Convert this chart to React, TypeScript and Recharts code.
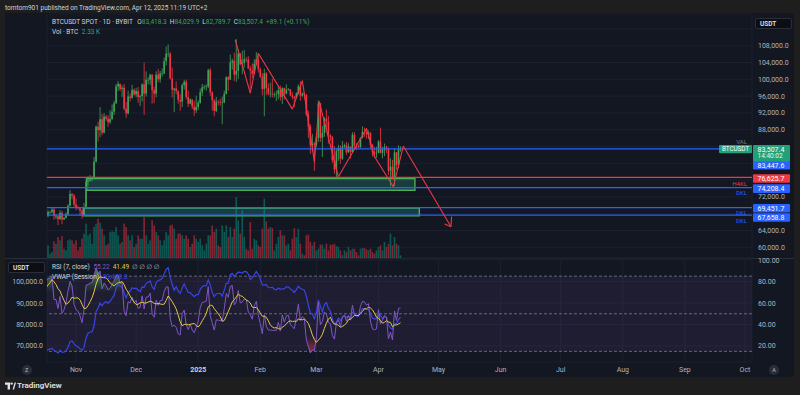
import {
  Area,
  Bar,
  CartesianGrid,
  ComposedChart,
  Line,
  ReferenceArea,
  ReferenceLine,
  XAxis,
  YAxis,
} from "recharts";

const FONT = "Roboto, 'Noto Sans', 'DejaVu Sans', sans-serif";
const BG = "#131722";
const FRAME = "#1e1e1e";
const AXIS_TEXT = "#b2b5be";
const GRID = "#1c2030";
const UP = "#43a25a";
const DOWN = "#f23645";
const LINE_BLUE = "#2962ff";
const ZONE_EDGE = "#4caf50";
const LAST_GREEN = "#22a078";
const RSI_PURPLE = "#7e57c2";
const RSI_YELLOW = "#e4c845";
const VWAP_BLUE = "#3a44e4";

// BYBIT BTCUSDT spot, one daily candle per entry, 2024-10-17 … 2025-04-12, thousand USDT
const OPEN = [
  67.6, 67.4, 68.4, 68.4, 69.0, 67.4, 67.4, 66.7, 68.2, 66.6, 67.0, 67.9, 69.9, 72.7, 72.3,
  70.2, 69.5, 69.3, 68.7, 67.8, 69.4, 75.6, 75.9, 76.5, 76.7, 80.4, 88.7, 87.9, 90.5, 87.3,
  91.1, 90.6, 89.8, 90.5, 92.3, 94.3, 98.3, 98.9, 97.7, 98.0, 93.0, 91.9, 95.9, 95.6, 97.5,
  96.4, 97.2, 95.8, 96.0, 98.8, 96.6, 99.9, 99.9, 101.1, 97.4, 96.6, 101.1, 100.0, 101.4, 101.4,
  104.3, 106.1, 106.1, 100.2, 97.5, 97.8, 97.2, 95.1, 94.7, 98.6, 99.4, 95.8, 94.2, 95.2, 93.5, 92.6,
  93.4, 94.4, 96.9, 98.1, 98.2, 98.3, 102.2, 96.9, 95.0, 92.5, 94.7, 94.6, 94.5, 94.5, 96.5,
  100.5, 99.9, 104.0, 104.4, 101.1, 102.0, 106.1, 103.6, 103.9, 104.8, 104.7, 102.6, 102.1, 101.3, 103.7, 104.7,
  102.4, 100.6, 97.7, 101.4, 97.9, 96.6, 96.6, 96.5, 96.5, 96.5, 97.4, 95.8, 97.9, 96.6,
  97.5, 97.6, 96.2, 95.8, 95.5, 96.6, 98.3, 96.1, 96.6, 96.3, 91.6, 88.7, 84.3, 84.7,
  84.4, 86.0, 94.3, 86.1, 87.2, 90.6, 89.9, 86.7, 86.2, 80.7, 78.5, 82.9, 83.7, 81.1, 84.0,
  84.3, 82.6, 84.0, 82.7, 86.8, 84.2, 84.0, 83.8, 86.1, 87.5, 87.4, 86.9, 87.2, 84.4, 82.6, 82.4,
  82.5, 85.2, 82.5, 83.1, 83.8, 83.5, 78.2, 79.2, 76.3, 82.6, 79.6, 83.4183,
];
const HIGH = [
  68.0, 68.9, 68.7, 69.4, 69.5, 67.9, 67.5, 68.8, 68.7, 67.3, 68.3, 70.3, 73.6, 72.9, 72.7,
  71.6, 69.9, 69.4, 69.0, 70.6, 76.4, 76.9, 77.2, 76.9, 81.5, 89.0, 89.9, 93.4, 91.8, 91.9,
  91.5, 91.4, 92.6, 94.0, 94.9, 98.9, 99.6, 99.0, 98.6, 98.9, 94.6, 97.3, 96.6, 98.7, 97.8,
  97.9, 98.2, 96.3, 99.0, 104.0, 101.9, 100.5, 101.3, 101.2, 98.3, 101.9, 102.5, 102.0, 102.6, 105.2,
  107.8, 108.3, 106.5, 102.8, 98.0, 99.5, 97.4, 96.4, 99.0, 99.9, 99.9, 97.3, 95.5, 95.2, 94.9, 96.1,
  95.0, 97.8, 98.9, 98.7, 98.8, 102.5, 102.7, 97.2, 95.3, 95.8, 95.0, 95.4, 95.9, 97.3, 100.7,
  100.8, 105.9, 104.9, 106.3, 109.6, 107.2, 106.3, 106.8, 107.0, 105.3, 105.5, 103.2, 103.8, 104.8, 106.5, 106.0,
  102.8, 101.5, 102.5, 101.7, 99.0, 99.2, 100.1, 96.9, 97.3, 98.3, 98.5, 98.1, 98.0, 98.8,
  97.9, 97.7, 97.0, 96.0, 96.9, 98.8, 99.5, 96.9, 96.7, 96.5, 92.5, 89.3, 87.0, 85.1,
  86.5, 95.0, 94.4, 88.9, 91.0, 92.8, 91.3, 86.9, 86.5, 84.1, 83.6, 84.4, 84.3, 85.3, 84.7,
  85.1, 84.8, 84.0, 87.4, 87.4, 84.8, 84.5, 86.1, 88.8, 88.5, 88.3, 87.8, 87.5, 84.6, 83.9, 83.9,
  85.5, 88.5, 83.9, 84.7, 84.2, 83.8, 81.2, 80.8, 83.6, 82.7, 84.3, 84.0299,
];
const LOW = [
  66.8, 67.2, 68.0, 68.1, 66.6, 66.7, 65.3, 66.6, 65.5, 66.6, 66.9, 67.5, 69.7, 71.4, 69.7,
  68.8, 69.0, 67.5, 66.8, 67.5, 69.3, 74.7, 75.6, 75.7, 76.5, 80.2, 85.2, 86.2, 86.7, 87.1,
  90.1, 88.7, 89.4, 90.4, 91.5, 94.1, 97.2, 97.2, 95.8, 92.6, 90.8, 91.6, 94.7, 95.4, 96.1,
  95.7, 94.4, 93.6, 94.7, 91.5, 95.9, 98.8, 98.7, 94.2, 94.3, 95.7, 99.3, 99.2, 100.6, 101.2,
  103.3, 105.3, 100.0, 95.7, 92.2, 96.4, 94.2, 92.5, 93.4, 97.6, 95.2, 93.4, 94.0, 92.9, 91.3, 92.0,
  92.7, 94.2, 96.0, 97.5, 97.3, 97.9, 96.1, 92.5, 91.2, 92.2, 93.8, 93.7, 89.3, 94.3, 96.4,
  97.3, 99.9, 102.3, 99.6, 99.4, 100.1, 103.3, 101.2, 102.8, 104.1, 102.5, 97.8, 100.3, 101.3, 103.3, 101.6,
  100.3, 96.2, 91.2, 96.2, 96.2, 95.7, 95.7, 95.7, 94.8, 95.3, 94.9, 94.1, 95.2, 96.4,
  97.3, 96.0, 95.2, 93.4, 95.4, 96.4, 94.9, 95.8, 95.2, 91.2, 86.0, 82.3, 82.8, 78.2,
  83.9, 85.1, 85.1, 81.5, 86.3, 87.8, 84.7, 85.3, 80.1, 77.5, 76.6, 80.6, 79.9, 80.8, 83.6,
  82.0, 82.5, 81.1, 82.6, 83.6, 83.2, 83.6, 83.7, 85.9, 86.3, 85.9, 85.8, 83.6, 81.6, 81.3, 81.3,
  82.4, 82.3, 81.2, 81.7, 82.4, 77.2, 74.5, 76.2, 74.6, 78.5, 78.9, 82.7897,
];
const CLOSE = [
  67.4, 68.4, 68.4, 69.0, 67.4, 67.4, 66.7, 68.2, 66.6, 67.0, 67.9, 69.9, 72.7, 72.3, 70.2,
  69.5, 69.3, 68.7, 67.8, 69.4, 75.6, 75.9, 76.5, 76.7, 80.4, 88.7, 87.9, 90.5, 87.3, 91.1,
  90.6, 89.8, 90.5, 92.3, 94.3, 98.3, 98.9, 97.7, 98.0, 93.0, 91.9, 95.9, 95.6, 97.5, 96.4,
  97.2, 95.8, 96.0, 98.8, 96.6, 99.9, 99.9, 101.1, 97.4, 96.6, 101.1, 100.0, 101.4, 101.4, 104.3,
  106.1, 106.1, 100.2, 97.5, 97.8, 97.2, 95.1, 94.7, 98.6, 99.4, 95.8, 94.2, 95.2, 93.5, 92.6, 93.4,
  94.4, 96.9, 98.1, 98.2, 98.3, 102.2, 96.9, 95.0, 92.5, 94.7, 94.6, 94.5, 94.5, 96.5, 100.5,
  99.9, 104.0, 104.4, 101.1, 102.0, 106.1, 103.6, 103.9, 104.8, 104.7, 102.6, 102.1, 101.3, 103.7, 104.7, 102.4,
  100.6, 97.7, 101.4, 97.9, 96.6, 96.6, 96.5, 96.5, 96.5, 97.4, 95.8, 97.9, 96.6, 97.5,
  97.6, 96.2, 95.8, 95.5, 96.6, 98.3, 96.1, 96.6, 96.3, 91.6, 88.7, 84.3, 84.7, 84.4,
  86.0, 94.3, 86.1, 87.2, 90.6, 89.9, 86.7, 86.2, 80.7, 78.5, 82.9, 83.7, 81.1, 84.0, 84.3,
  82.6, 84.0, 82.7, 86.8, 84.2, 84.0, 83.8, 86.1, 87.5, 87.4, 86.9, 87.2, 84.4, 82.6, 82.4, 82.5,
  85.2, 82.5, 83.1, 83.8, 83.5, 78.2, 79.2, 76.3, 82.6, 79.6, 83.4183, 83.5074,
];
// thousand BTC
const VOLUME = [
  13.2, 10.9, 3.7, 5.2, 14.4, 12.3, 18.1, 15.2, 18.9, 8.0, 6.6, 15.2, 16.1, 15.2, 12.3,
  15.2, 6.6, 9.5, 16.6, 21.0, 29.6, 19.5, 21.0, 12.3, 26.7, 29.6, 33.9, 30.4, 25.3, 19.5,
  10.9, 12.3, 22.4, 23.0, 22.4, 26.7, 19.5, 12.3, 13.8, 29.6, 26.7, 19.5, 15.2, 19.5, 9.5,
  12.3, 19.5, 16.6, 16.6, 35.3, 19.5, 12.3, 15.2, 32.4, 28.1, 22.4, 19.5, 15.2, 10.9, 15.2,
  22.4, 19.5, 28.1, 28.7, 25.3, 16.6, 21.0, 21.0, 19.5, 16.6, 19.5, 16.6, 9.5, 12.3, 19.5, 16.6,
  13.8, 16.6, 10.9, 6.6, 12.3, 19.5, 19.5, 28.1, 22.4, 25.3, 10.9, 9.5, 28.1, 22.4, 28.1,
  18.1, 26.7, 18.1, 25.3, 52.5, 32.4, 21.0, 41.0, 18.1, 8.0, 6.6, 31.0, 8.0, 16.6, 15.2, 10.9,
  9.5, 25.3, 51.1, 31.6, 25.3, 26.7, 25.8, 6.6, 12.3, 18.1, 23.8, 19.5, 19.5, 10.9,
  12.3, 6.6, 16.6, 25.8, 18.1, 25.3, 12.3, 3.7, 2.3, 19.5, 20.1, 13.8, 10.9, 13.8,
  6.6, 8.0, 11.5, 11.5, 8.0, 12.3, 6.6, 11.5, 11.5, 12.3, 10.3, 9.5, 6.6, 2.3, 6.6,
  5.2, 9.5, 6.6, 8.0, 8.0, 5.2, 2.3, 8.0, 8.6, 8.6, 7.5, 6.6, 8.0, 5.2, 3.7, 6.6,
  9.5, 10.9, 6.6, 13.8, 9.5, 12.3, 21.0, 10.9, 18.1, 12.3, 10.9, 2.33,
];
// closes 2024-10-03 … 10-16, only to warm up the RSI
const WARMUP_CLOSE = [60.7, 62.1, 62.0, 62.8, 62.2, 62.1, 60.6, 60.3, 62.4, 63.2, 62.8, 66.0, 67.0, 67.6];

// day index of each month start (0 = 2024-10-17)
const MONTH_TICKS = [15, 45, 76, 107, 135, 166, 196, 227, 257, 288, 319, 349];
const MONTH_LABELS = ["Nov", "Dec", "2025", "Feb", "Mar", "Apr", "May", "Jun", "Jul", "Aug", "Sep", "Oct"];
const X_DOMAIN = [0.5, 352.5];

const PRICE_TICKS = [60000, 64000, 68000, 72000, 76000, 80000, 84000, 88000, 92000, 96000, 100000, 104000, 108000, 112000];
const HIDDEN_PRICE_LABELS = [68000, 76000, 80000, 84000, 112000];
const P_DOMAIN = [57452, 115548];

const VWAP_TICKS = [70000, 80000, 90000, 100000];
const VW_DOMAIN = [62359, 111109];
const RSI_TICKS = [20, 40, 60, 80, 100];
const RSI_DOMAIN = [5.1, 101.9];
const RSI_BANDS = [85, 50, 15];
// RSI gradient fills: green from 70 up to 100, red from 30 down to 0
const OB_LEVEL = 70;
const OS_LEVEL = 30;

// horizontal levels drawn on the chart
const LEVEL_PRICE = [83447.6, 76625.7, 74208.4, 69451.7, 67658.8];
const LEVEL_TAG = ["VAL", "H4KL", "DKL", "DKL", "DKL"];
const LEVEL_STYLE = [
  { stroke: LINE_BLUE, tagColor: "#787b86", boxDy: 16.5, tagDy: -7 },
  { stroke: DOWN, tagColor: DOWN, boxDy: 1, tagDy: 6 },
  { stroke: LINE_BLUE, tagColor: LINE_BLUE, boxDy: 1, tagDy: 5.7 },
  { stroke: LINE_BLUE, tagColor: LINE_BLUE, boxDy: 0.6, tagDy: 5.6 },
  { stroke: LINE_BLUE, tagColor: LINE_BLUE, boxDy: 2.3, tagDy: 5.5 },
];

// drawn rectangles: day span and price span
const ZONE_START = [20.3, 18.6];
const ZONE_END = [184.2, 186.4];
const ZONE_TOP = [76350, 69350];
const ZONE_BOTTOM = [73600, 67500];

// red zig-zag drawing, then arrow head wings at its last point
const ZIG_DAY = [94.5, 102, 106, 123, 128, 134, 136.4, 146, 160, 164, 173.4, 178.4, 202.2];
const ZIG_PRICE = [109400, 96700, 106200, 92900, 99700, 80400, 94700, 76800, 88300, 81600, 74400, 84100, 64900];
const WING_DAY = [199.0, 202.5];
const WING_PRICE = [65550, 67350];

const RSI_LEN = 7;
const MA_LEN = 7;
const RSI_PLOT_H = 104;

function rsiOf(closes: number[]): number[] {
  const out: number[] = [NaN];
  let g = 0;
  let l = 0;
  for (let i = 1; i < closes.length; i++) {
    const ch = closes[i] - closes[i - 1];
    const n = Math.min(i, RSI_LEN);
    g += (Math.max(ch, 0) - g) / n;
    l += (Math.max(-ch, 0) - l) / n;
    out.push(l === 0 ? 100 : 100 - 100 / (1 + g / l));
  }
  return out;
}

const rsiAll = rsiOf([...WARMUP_CLOSE, ...CLOSE]);
const maAll = rsiAll.map((_, i) => {
  const win = rsiAll.slice(Math.max(1, i - MA_LEN + 1), i + 1).filter((v) => !Number.isNaN(v));
  return win.length ? win.reduce((a, b) => a + b, 0) / win.length : NaN;
});
const skip = WARMUP_CLOSE.length;

const rows = CLOSE.map((c, i) => {
  const r = rsiAll[i + skip];
  return {
    i,
    open: OPEN[i] * 1000,
    high: HIGH[i] * 1000,
    low: LOW[i] * 1000,
    close: c * 1000,
    range: [LOW[i] * 1000, HIGH[i] * 1000],
    up: c >= OPEN[i],
    vol: VOLUME[i],
    vwap: ((HIGH[i] + LOW[i] + c) / 3) * 1000,
    rsi: r,
    rsiMa: maAll[i + skip],
    ob: r > OB_LEVEL ? [OB_LEVEL, r] : [OB_LEVEL, OB_LEVEL],
    os: r < OS_LEVEL ? [r, OS_LEVEL] : [OS_LEVEL, OS_LEVEL],
  };
});
const last = rows[rows.length - 1];
const prev = rows[rows.length - 2];

const fmt1 = (v: number) =>
  v.toLocaleString("en-US", { minimumFractionDigits: 1, maximumFractionDigits: 1 });

// pixel row of an RSI value inside the RSI chart, for the gradient stops
const rsiY = (v: number) => ((RSI_DOMAIN[1] - v) / (RSI_DOMAIN[1] - RSI_DOMAIN[0])) * RSI_PLOT_H;

function Candle(props: any) {
  const { x, y, width, height, payload } = props;
  if (x == null || !payload) return null;
  const top = Math.min(y, y + height);
  const h = Math.abs(height);
  const span = payload.high - payload.low || 1;
  const toY = (v: number) => top + ((payload.high - v) / span) * h;
  const cx = x + width / 2;
  const color = payload.up ? UP : DOWN;
  const b1 = toY(Math.max(payload.open, payload.close));
  const b2 = toY(Math.min(payload.open, payload.close));
  return (
    <g>
      <line x1={cx} x2={cx} y1={top} y2={top + h} stroke={color} strokeWidth={0.8} />
      <rect x={cx - 0.8} y={b1} width={1.6} height={Math.max(b2 - b1, 0.6)} fill={color} />
    </g>
  );
}

function VolBar(props: any) {
  const { x, y, width, height, payload } = props;
  if (x == null || !payload) return null;
  const top = Math.min(y, y + height);
  return (
    <rect
      x={x + width / 2 - 0.8}
      y={top}
      width={1.6}
      height={Math.abs(height)}
      fill={payload.up ? "#089981" : DOWN}
      fillOpacity={0.5}
    />
  );
}

function PriceTick(props: any) {
  const { x, y, payload } = props;
  if (HIDDEN_PRICE_LABELS.includes(payload.value)) return null;
  return (
    <text x={x - 2} y={y} dy="0.355em" fontSize={7} fill={AXIS_TEXT} fontFamily={FONT}>
      {fmt1(payload.value)}
    </text>
  );
}

function RsiTick(props: any) {
  const { x, y, payload } = props;
  return (
    <text x={x - 2} y={y} dy="0.355em" fontSize={7} fill={AXIS_TEXT} fontFamily={FONT}>
      {payload.value.toFixed(2)}
    </text>
  );
}

function VwapTick(props: any) {
  const { x, y, payload } = props;
  return (
    <text x={x + 4} y={y} dy="0.355em" textAnchor="end" fontSize={7} fill={AXIS_TEXT} fontFamily={FONT}>
      {fmt1(payload.value)}
    </text>
  );
}

function MonthTick(props: any) {
  const { x, y, payload } = props;
  const label = MONTH_LABELS[MONTH_TICKS.indexOf(payload.value)];
  const bold = label === "2025";
  return (
    <text
      x={x}
      y={y}
      dy="0.355em"
      textAnchor="middle"
      fontSize={7}
      fontWeight={bold ? 700 : 400}
      fill={bold ? "#d1d4dc" : AXIS_TEXT}
      fontFamily={FONT}
    >
      {label}
    </text>
  );
}

function LevelTag(props: any) {
  const { viewBox, price, tag, boxColor, tagColor, boxDy, tagDy } = props;
  if (!viewBox) return null;
  const right = viewBox.x + viewBox.width;
  const y = viewBox.y;
  return (
    <g fontFamily={FONT}>
      <text x={right - 5} y={y + tagDy} dy="0.355em" textAnchor="end" fontSize={6} fill={tagColor}>
        {tag}
      </text>
      <rect x={right + 1} y={y + boxDy - 4.3} width={37} height={8.6} fill={boxColor} rx={1} />
      <text x={right + 5.5} y={y + boxDy} dy="0.355em" fontSize={7} fill="#ffffff">
        {fmt1(price)}
      </text>
    </g>
  );
}

function LastTag(props: any) {
  const { viewBox } = props;
  if (!viewBox) return null;
  const right = viewBox.x + viewBox.width;
  const y = viewBox.y;
  return (
    <g fontFamily={FONT}>
      <rect x={right - 33} y={y - 3.6} width={33} height={8.4} fill={LAST_GREEN} rx={1} />
      <text x={right - 16.5} y={y + 0.6} dy="0.355em" textAnchor="middle" fontSize={6.3} fill="#fff">
        BTCUSDT
      </text>
      <rect x={right + 1} y={y - 3.6} width={37} height={16.6} fill={LAST_GREEN} rx={1} />
      <text x={right + 5.5} y={y + 0.8} dy="0.355em" fontSize={7} fill="#fff">
        {fmt1(last.close)}
      </text>
      <text x={right + 5.5} y={y + 7.4} dy="0.355em" fontSize={6.5} fill="#e8f5ef">
        14:40:02
      </text>
    </g>
  );
}

// bottom layer: grid, price scale, volume and the two drawn zones
function VolumeLayer() {
  return (
    <ComposedChart width={800} height={244} data={rows} margin={{ top: 0, right: 6, left: 47, bottom: 0 }}>
      <CartesianGrid stroke={GRID} yAxisId="p" />
      <XAxis
        type="number"
        dataKey="i"
        domain={X_DOMAIN}
        allowDataOverflow
        ticks={MONTH_TICKS}
        interval={0}
        height={0}
        tick={false}
        axisLine={false}
        tickLine={false}
      />
      <YAxis
        yAxisId="p"
        orientation="right"
        type="number"
        domain={P_DOMAIN}
        allowDataOverflow
        ticks={PRICE_TICKS}
        interval={0}
        width={42}
        axisLine={false}
        tickLine={false}
        tick={<PriceTick />}
      />
      <YAxis yAxisId="v" hide domain={[0, 210]} allowDataOverflow />
      <Bar yAxisId="v" dataKey="vol" barSize={2} shape={<VolBar />} isAnimationActive={false} />
      {ZONE_START.map((s, k) => (
        <ReferenceArea
          key={`z${k}`}
          yAxisId="p"
          x1={s}
          x2={ZONE_END[k]}
          y1={ZONE_BOTTOM[k]}
          y2={ZONE_TOP[k]}
          fill="#2a9d8f"
          fillOpacity={0.28}
          stroke={ZONE_EDGE}
          strokeWidth={1.4}
          ifOverflow="visible"
        />
      ))}
    </ComposedChart>
  );
}

// top layer: levels, candles, zig-zag drawing, price tags
function PriceLayer() {
  return (
    <ComposedChart width={800} height={244} data={rows} margin={{ top: 0, right: 48, left: 47, bottom: 0 }}>
      <XAxis hide type="number" dataKey="i" domain={X_DOMAIN} allowDataOverflow />
      <YAxis hide type="number" domain={P_DOMAIN} allowDataOverflow />
      {LEVEL_PRICE.map((p, k) => (
        <ReferenceLine
          key={`l${k}`}
          y={p}
          stroke={LEVEL_STYLE[k].stroke}
          strokeOpacity={1}
          strokeWidth={1.2}
          ifOverflow="visible"
          label={
            <LevelTag
              price={p}
              tag={LEVEL_TAG[k]}
              boxColor={LEVEL_STYLE[k].stroke}
              tagColor={LEVEL_STYLE[k].tagColor}
              boxDy={LEVEL_STYLE[k].boxDy}
              tagDy={LEVEL_STYLE[k].tagDy}
            />
          }
        />
      ))}
      <ReferenceLine y={last.close} stroke={LAST_GREEN} strokeOpacity={0} label={<LastTag />} />
      <Bar dataKey="range" barSize={2} shape={<Candle />} isAnimationActive={false} />
      {ZIG_DAY.slice(1).map((d, k) => (
        <ReferenceLine
          key={`s${k}`}
          segment={[
            { x: ZIG_DAY[k], y: ZIG_PRICE[k] },
            { x: d, y: ZIG_PRICE[k + 1] },
          ]}
          stroke={DOWN}
          strokeWidth={1.1}
          ifOverflow="visible"
        />
      ))}
      {WING_DAY.map((d, k) => (
        <ReferenceLine
          key={`w${k}`}
          segment={[
            { x: ZIG_DAY[ZIG_DAY.length - 1], y: ZIG_PRICE[ZIG_PRICE.length - 1] },
            { x: d, y: WING_PRICE[k] },
          ]}
          stroke={DOWN}
          strokeWidth={1.1}
          ifOverflow="visible"
        />
      ))}
    </ComposedChart>
  );
}

function RsiLayer() {
  return (
    <ComposedChart width={800} height={120} data={rows} margin={{ top: 0, right: 6, left: 0, bottom: 0 }}>
      <defs>
        <linearGradient id="obFill" gradientUnits="userSpaceOnUse" x1="0" y1={rsiY(100)} x2="0" y2={rsiY(OB_LEVEL)}>
          <stop offset="0%" stopColor="#4caf50" stopOpacity={1} />
          <stop offset="100%" stopColor="#4caf50" stopOpacity={0} />
        </linearGradient>
        <linearGradient id="osFill" gradientUnits="userSpaceOnUse" x1="0" y1={rsiY(OS_LEVEL)} x2="0" y2={rsiY(0)}>
          <stop offset="0%" stopColor="#f23645" stopOpacity={0} />
          <stop offset="100%" stopColor="#f23645" stopOpacity={1} />
        </linearGradient>
      </defs>
      <XAxis
        type="number"
        dataKey="i"
        domain={X_DOMAIN}
        allowDataOverflow
        ticks={MONTH_TICKS}
        interval={0}
        height={16}
        axisLine={false}
        tickLine={false}
        tick={<MonthTick />}
      />
      <YAxis
        yAxisId="vw"
        orientation="left"
        type="number"
        width={47}
        domain={VW_DOMAIN}
        allowDataOverflow
        ticks={VWAP_TICKS}
        interval={0}
        axisLine={false}
        tickLine={false}
        tick={<VwapTick />}
      />
      <YAxis
        yAxisId="rsi"
        orientation="right"
        type="number"
        width={42}
        domain={RSI_DOMAIN}
        allowDataOverflow
        ticks={RSI_TICKS}
        interval={0}
        axisLine={false}
        tickLine={false}
        tick={<RsiTick />}
      />
      <ReferenceArea yAxisId="rsi" y1={RSI_BANDS[2]} y2={RSI_BANDS[0]} fill={RSI_PURPLE} fillOpacity={0.1} stroke="none" />
      <CartesianGrid stroke={GRID} yAxisId="rsi" />
      {RSI_BANDS.map((b) => (
        <ReferenceLine key={b} yAxisId="rsi" y={b} stroke="#787b86" strokeDasharray="3 2" strokeWidth={0.8} />
      ))}
      <Area yAxisId="rsi" dataKey="ob" type="linear" stroke="none" fill="url(#obFill)" fillOpacity={1} isAnimationActive={false} />
      <Area yAxisId="rsi" dataKey="os" type="linear" stroke="none" fill="url(#osFill)" fillOpacity={1} isAnimationActive={false} />
      <Line yAxisId="vw" dataKey="vwap" type="linear" stroke={VWAP_BLUE} strokeWidth={1.2} dot={false} isAnimationActive={false} />
      <Line yAxisId="rsi" dataKey="rsi" type="linear" stroke={RSI_PURPLE} strokeWidth={1} dot={false} isAnimationActive={false} />
      <Line yAxisId="rsi" dataKey="rsiMa" type="linear" stroke={RSI_YELLOW} strokeWidth={1} dot={false} isAnimationActive={false} />
    </ComposedChart>
  );
}

const change = last.close - prev.close;

export default function App() {
  const txt = { position: "absolute" as const, whiteSpace: "nowrap" as const, lineHeight: "8px" };
  const unitBox = {
    ...txt,
    width: 37,
    height: 11,
    lineHeight: "11px",
    background: "#0c0e14",
    border: "1px solid #2a2e39",
    boxSizing: "border-box" as const,
    borderRadius: 2,
    fontSize: 6.5,
    fontWeight: 600,
    color: "#e0e3eb",
    paddingLeft: 4,
  };
  return (
    <div
      style={{
        position: "absolute",
        left: 0,
        top: 0,
        width: 800,
        height: 395,
        background: FRAME,
        fontFamily: FONT,
        overflow: "hidden",
      }}
    >
      <div style={{ ...txt, left: 5, top: 3.5, fontSize: 6.5, color: "#d1d4dc" }}>
        tomtom901 published on TradingView.com, Apr 12, 2025 11:19 UTC+2
      </div>
      <div style={{ position: "absolute", left: 5, top: 13, width: 789, height: 364, background: BG, borderRadius: 2 }} />
      <div style={{ position: "absolute", left: 5, top: 258, width: 789, height: 1, background: "#2a2e39" }} />

      <div style={{ position: "absolute", left: 0, top: 14 }}>
        <VolumeLayer />
      </div>
      <div style={{ position: "absolute", left: 0, top: 14 }}>
        <PriceLayer />
      </div>
      <div style={{ position: "absolute", left: 0, top: 258 }}>
        <RsiLayer />
      </div>

      <div style={{ ...txt, left: 52, top: 18.3, fontSize: 6.5, color: "#d1d4dc" }}>
        BTCUSDT SPOT · 1D · BYBIT{"  "}
        <span style={{ marginLeft: 3 }}>O</span>
        <span style={{ color: UP }}>{fmt1(last.open)}</span>
        <span style={{ marginLeft: 3 }}>H</span>
        <span style={{ color: UP }}>{fmt1(last.high)}</span>
        <span style={{ marginLeft: 3 }}>L</span>
        <span style={{ color: UP }}>{fmt1(last.low)}</span>
        <span style={{ marginLeft: 3 }}>C</span>
        <span style={{ color: UP }}>{fmt1(last.close)}</span>
        <span style={{ color: UP, marginLeft: 3 }}>
          +{fmt1(change)} (+{((change / prev.close) * 100).toFixed(2)}%)
        </span>
      </div>
      <div style={{ ...txt, left: 52, top: 28.3, fontSize: 6.5, color: "#d1d4dc" }}>
        Vol · BTC <span style={{ color: "#26a69a", marginLeft: 2 }}>{last.vol.toFixed(2)} K</span>
      </div>

      <div style={{ ...unitBox, left: 755, top: 18 }}>USDT</div>
      <div style={{ ...unitBox, left: 8, top: 262 }}>USDT</div>

      <div style={{ ...txt, left: 52, top: 262.7, fontSize: 6.5, color: "#d1d4dc" }}>
        RSI (7, close) <span style={{ color: RSI_PURPLE, marginLeft: 2 }}>55.22</span>
        <span style={{ color: RSI_YELLOW, marginLeft: 3 }}>41.49</span>
        <span style={{ marginLeft: 3, color: AXIS_TEXT }}>∅ ∅ ∅ ∅</span>
      </div>
      <div style={{ ...txt, left: 52, top: 272.7, fontSize: 6.5, color: "#d1d4dc" }}>
        VWAP (Session) <span style={{ color: VWAP_BLUE, marginLeft: 2 }}>83,412.3</span>
      </div>

      {[
        { l: 21.7, t: "Z" },
        { l: 769, t: "A" },
      ].map((b) => (
        <div
          key={b.t}
          style={{
            position: "absolute",
            left: b.l,
            top: 365,
            width: 10,
            height: 10,
            borderRadius: 5,
            background: "#2a2e39",
            color: AXIS_TEXT,
            fontSize: 5.5,
            lineHeight: "10px",
            textAlign: "center",
          }}
        >
          {b.t}
        </div>
      ))}

      <svg style={{ position: "absolute", left: 4, top: 381 }} width={12} height={10}>
        <path d="M1 1.5 H6 V8.5 H3.6 V3.8 H1 Z" fill="#e0e3eb" />
        <circle cx={7.6} cy={2.6} r={1.2} fill="#e0e3eb" />
        <path d="M8.6 8.5 L10.6 1.5 H12 L10 8.5 Z" fill="#e0e3eb" />
      </svg>
      <div style={{ ...txt, left: 17, top: 382, fontSize: 8, fontWeight: 600, color: "#e0e3eb" }}>TradingView</div>
    </div>
  );
}
